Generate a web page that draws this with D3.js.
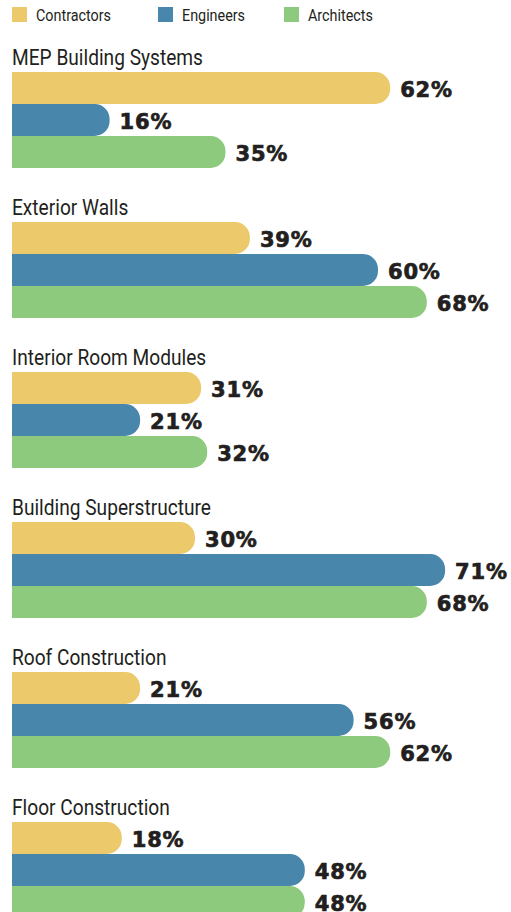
<!DOCTYPE html>
<html>
<head>
<meta charset="utf-8">
<script src="https://cdn.jsdelivr.net/npm/d3@7"></script>
<style>
  html, body { margin: 0; padding: 0; background: #fff; }
  svg { display: block; }
</style>
</head>
<body>
<svg id="chart" width="511" height="912"></svg>
<script>
// Survey shares by building component and respondent group
const categories = [
  "MEP Building Systems",
  "Exterior Walls",
  "Interior Room Modules",
  "Building Superstructure",
  "Roof Construction",
  "Floor Construction"
];
const series = ["Contractors", "Engineers", "Architects"];
const contractors = [62, 39, 31, 30, 21, 18];
const engineers   = [16, 60, 21, 71, 56, 48];
const architects  = [35, 68, 32, 68, 62, 48];
const colors = ["#ECC96B", "#4886AC", "#8DCA7D"];

const values = [contractors, engineers, architects];
const rows = [];
categories.forEach((c, i) => {
  series.forEach((s, j) => rows.push({ category: c, series: s, value: values[j][i] }));
});

const svg = d3.select("#chart");
const labelFont = "'Roboto', 'Liberation Sans', sans-serif";
const valueFont = "'DejaVu Sans', sans-serif";
const ink = "#231F20";
const narrow = 0.87; // horizontal squeeze for a condensed look

const x = d3.scaleLinear().domain([0, 100]).range([12, 622]);
const yGroup = d3.scaleBand().domain(categories).range([72, 72 + 150 * categories.length]);
const ySeries = d3.scaleBand().domain(series).range([0, 96]);
const color = d3.scaleOrdinal().domain(series).range(colors);

// Legend
const legend = svg.append("g").attr("class", "legend");
const legendX = d3.scaleOrdinal().domain(series).range([12, 158, 284]);
series.forEach(s => {
  const g = legend.append("g").attr("transform", `translate(${legendX(s)},7)`);
  g.append("rect").attr("width", 15).attr("height", 15).attr("fill", color(s));
  g.append("text")
    .attr("transform", `translate(24,14.3) scale(${narrow},1)`)
    .attr("font-family", labelFont)
    .attr("font-size", 16.5)
    .attr("fill", ink)
    .text(s);
});

// Bar with a rounded right end
function barPath(x0, x1, y, h, r) {
  const rr = Math.min(r, (x1 - x0), h / 2);
  return `M${x0},${y}H${x1 - rr}A${rr},${rr} 0 0 1 ${x1},${y + rr}` +
         `V${y + h - rr}A${rr},${rr} 0 0 1 ${x1 - rr},${y + h}H${x0}Z`;
}

const groups = svg.selectAll("g.group")
  .data(categories)
  .join("g")
  .attr("class", "group")
  .attr("transform", d => `translate(0,${yGroup(d)})`);

groups.append("text")
  .attr("transform", `translate(12,-6.8) scale(${narrow},1)`)
  .attr("font-family", labelFont)
  .attr("font-size", 22)
  .attr("fill", ink)
  .text(d => d);

groups.each(function(cat) {
  const g = d3.select(this);
  const data = rows.filter(r => r.category === cat);
  g.selectAll("path.bar")
    .data(data)
    .join("path")
    .attr("class", "bar")
    .attr("fill", d => color(d.series))
    .attr("d", d => barPath(x(0), x(d.value), ySeries(d.series), ySeries.bandwidth(), 15));
  g.selectAll("text.value")
    .data(data)
    .join("text")
    .attr("class", "value")
    .attr("x", d => x(d.value) + 10)
    .attr("y", d => ySeries(d.series) + ySeries.bandwidth() / 2 + 8.5)
    .attr("font-family", valueFont)
    .attr("font-weight", "bold")
    .attr("font-size", 21)
    .attr("letter-spacing", 0.8)
    .attr("fill", ink)
    .attr("stroke", ink)
    .attr("stroke-width", 0.7)
    .text(d => d.value + "%");
});
</script>
</body>
</html>
